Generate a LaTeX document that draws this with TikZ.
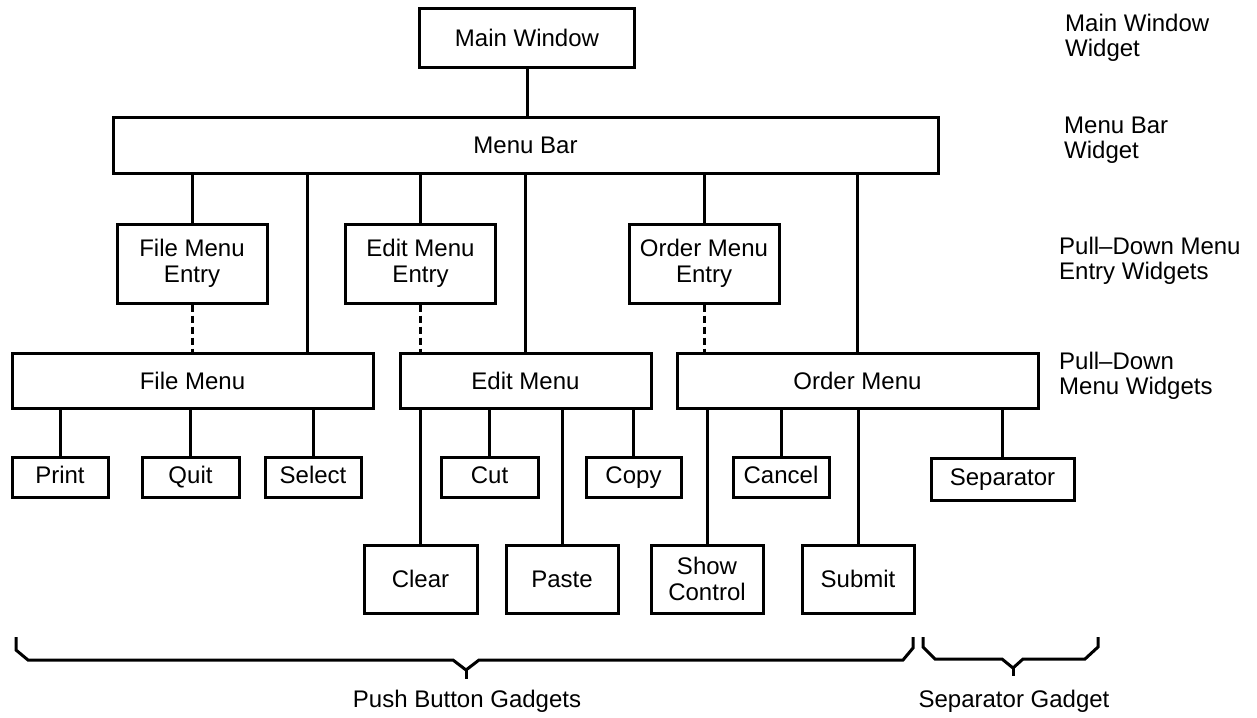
\documentclass[tikz,border=0pt]{standalone}
\usepackage{fontspec}
\setmainfont{Liberation Sans}
\usepackage{tikz}

\begin{document}
\begin{tikzpicture}[x=1pt, y=-1pt,
    font=\fontsize{24}{26}\selectfont,
    wbox/.style={draw, line width=3pt, inner sep=0pt},
    entrybox/.style={wbox, align=center, minimum width=150pt, minimum height=79pt},
    menubox/.style={wbox, minimum height=55pt},
    btnbox/.style={wbox, minimum height=40pt, text height=17pt, text depth=5pt},
    tallbox/.style={wbox, align=center, minimum width=112pt, minimum height=68pt},
    link/.style={line width=3pt},
    dashlink/.style={line width=3pt, dash pattern=on 7pt off 4pt},
    brace/.style={line width=3pt},
    tag/.style={anchor=north west, inner sep=0pt, align=left, font=\fontsize{24}{25}\selectfont}]
    \useasboundingbox (0,0) rectangle (1257,717);

    % widgets
    \node[wbox, minimum width=215pt, minimum height=58pt] (mainwin) at (527,38) {Main Window};
    \node[menubox, minimum width=825pt, minimum height=56pt] (menubar) at (525.5,145) {Menu Bar};

    \node[entrybox] (fileentry) at (192,263.5) {File Menu\\Entry};
    \node[entrybox] (editentry) at (420.5,263.5) {Edit Menu\\Entry};
    \node[entrybox] (orderentry) at (704,263.5) {Order Menu\\Entry};

    \node[menubox, minimum width=361pt] (filemenu) at (192.5,380.5) {File Menu};
    \node[menubox, minimum width=251pt] (editmenu) at (525.5,380.5) {Edit Menu};
    \node[menubox, minimum width=361pt] (ordermenu) at (857.5,380.5) {Order Menu};

    % gadgets
    \node[btnbox, minimum width=96pt] (print) at (60,477) {Print};
    \node[btnbox, minimum width=97pt] (quit) at (190.5,477) {Quit};
    \node[btnbox, minimum width=96pt] (select) at (313,477) {Select};
    \node[btnbox, minimum width=97pt] (cut) at (489.5,477) {Cut};
    \node[btnbox, minimum width=95pt] (copy) at (633.5,477) {Copy};
    \node[btnbox, minimum width=96pt] (cancel) at (781,477) {Cancel};
    \node[btnbox, minimum width=143pt, minimum height=42pt] (separator) at (1002.5,479) {Separator};

    \node[tallbox, minimum width=113pt] (clear) at (420.5,579) {Clear};
    \node[tallbox] (paste) at (562,579) {Paste};
    \node[tallbox] (showctl) at (707,579) {Show\\Control};
    \node[tallbox] (submit) at (858,579) {Submit};

    % links
    \draw[link] (mainwin.south) -- (mainwin.south |- menubar.north);
    \draw[link] (fileentry.north) -- (fileentry.north |- menubar.south);
    \draw[link] (editentry.north) -- (editentry.north |- menubar.south);
    \draw[link] (orderentry.north) -- (orderentry.north |- menubar.south);
    \draw[link] ([xshift=114.5pt]filemenu.north) -- ([xshift=114.5pt]filemenu.north |- menubar.south);
    \draw[link] (editmenu.north) -- (editmenu.north |- menubar.south);
    \draw[link] (ordermenu.north) -- (ordermenu.north |- menubar.south);

    \draw[dashlink] (fileentry.south) -- (fileentry.south |- filemenu.north);
    \draw[dashlink] (editentry.south) -- (editentry.south |- editmenu.north);
    \draw[dashlink] (orderentry.south) -- (orderentry.south |- ordermenu.north);

    \draw[link] (print.north) -- (print.north |- filemenu.south);
    \draw[link] (quit.north) -- (quit.north |- filemenu.south);
    \draw[link] (select.north) -- (select.north |- filemenu.south);
    \draw[link] (clear.north) -- (clear.north |- editmenu.south);
    \draw[link] (cut.north) -- (cut.north |- editmenu.south);
    \draw[link] (paste.north) -- (paste.north |- editmenu.south);
    \draw[link] (copy.north) -- (copy.north |- editmenu.south);
    \draw[link] (showctl.north) -- (showctl.north |- ordermenu.south);
    \draw[link] (cancel.north) -- (cancel.north |- ordermenu.south);
    \draw[link] (submit.north) -- (submit.north |- ordermenu.south);
    \draw[link] (separator.north) -- (separator.north |- ordermenu.south);

    % level tags
    \node[tag] (tagmain) at (1065,14) {Main Window\\Widget};
    \node[tag] (tagbar) at (1064,117) {Menu Bar\\Widget};
    \node[tag] (tagentry) at (1059,237) {Pull--Down Menu\\Entry Widgets};
    \node[tag] (tagmenu) at (1059,352) {Pull--Down\\Menu Widgets};

    % braces
    \draw[brace] (16,637) -- (16,650) -- (28,660) -- (453,660) -- (466,670) -- (479,660) -- (903,660) -- (913,648) -- (913,637);
    \draw[brace] (466,670) -- (466,679);
    \draw[brace] (923,637) -- (923,647) -- (935,659) -- (1002,659) -- (1013,668) -- (1023,659) -- (1085,659) -- (1098,647) -- (1098,637);
    \draw[brace] (1013,668) -- (1013,676);

    \node[anchor=base, inner sep=0pt] (pushlabel) at (467,707) {Push Button Gadgets};
    \node[anchor=base, inner sep=0pt] (seplabel) at (1014,707) {Separator Gadget};
\end{tikzpicture}
\end{document}
